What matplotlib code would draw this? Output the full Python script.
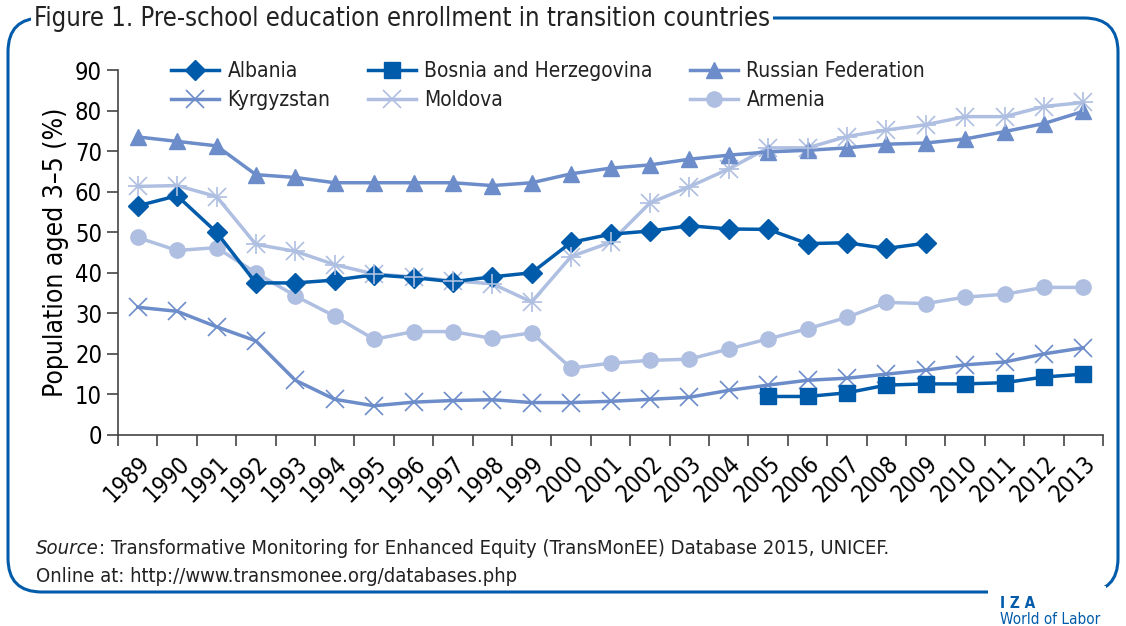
import numpy as np
import matplotlib.pyplot as plt
from matplotlib.patches import FancyBboxPatch, Rectangle

years = [str(y) for y in range(1989, 2014)]

albania = [56.5, 59.0, 50.0, 37.5, 37.5, 38.2, 39.5, 38.8, 37.8, 39.0, 40.0,
           47.5, 49.5, 50.3, 51.6, 50.8, 50.7, 47.2, 47.4, 46.0, 47.3]
bosnia_years = years[16:]
bosnia = [9.5, 9.5, 10.4, 12.3, 12.6, 12.6, 12.9, 14.3, 15.0]
russia = [73.5, 72.4, 71.3, 64.2, 63.5, 62.2, 62.2, 62.2, 62.2, 61.5, 62.2,
          64.4, 65.8, 66.6, 68.0, 69.0, 69.8, 70.2, 70.8, 71.7, 72.0, 73.0,
          74.8, 76.8, 79.8]
kyrgyzstan = [31.5, 30.5, 26.7, 23.2, 13.5, 8.8, 7.2, 8.1, 8.5, 8.7, 8.0,
              8.0, 8.3, 8.8, 9.3, 11.0, 12.3, 13.5, 14.0, 15.0, 16.0, 17.3,
              18.0, 20.0, 21.5]
moldova = [61.3, 61.5, 58.8, 47.0, 45.3, 42.0, 39.7, 39.0, 38.0, 37.3, 32.8,
           44.0, 47.5, 57.2, 61.2, 65.6, 70.8, 70.8, 73.6, 75.2, 76.5, 78.5,
           78.5, 81.0, 82.0]
armenia = [48.7, 45.5, 46.2, 40.0, 34.3, 29.3, 23.6, 25.5, 25.5, 23.8, 25.2,
           16.5, 17.7, 18.4, 18.7, 21.2, 23.7, 26.2, 29.0, 32.7, 32.4, 34.0,
           34.7, 36.4, 36.4]

dark = "#005BAA"
mid = "#6C8DC9"
light = "#AFBFE1"
plt.rcParams['font.family'] = ["DejaVu Sans"]
plt.rcParams['font.stretch'] = "condensed"
plt.rcParams['text.color'] = "#222222"

fig = plt.figure(figsize=(11.26, 6.26), dpi=100)
ax = fig.add_axes([118/1126, 1 - 435/626, 985/1126, 365/626])

pos = {y: i for i, y in enumerate(years)}
x = np.arange(len(years))

ax.plot(x, armenia, color=light, lw=2.5, marker="o", ms=11, label="Armenia")
ax.plot(x, moldova, color=light, lw=2.5, marker="x", ms=13, mew=1.2, label="Moldova")
ax.plot(x, kyrgyzstan, color=mid, lw=2.5, marker="x", ms=13, mew=1.2, label="Kyrgyzstan")
ax.plot(x, russia, color=mid, lw=2.5, marker="^", ms=11, label="Russian Federation")
ax.plot([pos[y] for y in bosnia_years], bosnia, color=dark, lw=2.5, marker="s",
        ms=11, label="Bosnia and Herzegovina")
ax.plot(x[:len(albania)], albania, color=dark, lw=2.5, marker="D", ms=10, label="Albania")
# moldova asterisk look: add plus on top
ax.plot(x, moldova, color=light, lw=0, marker="+", ms=15, mew=1.2)

ax.set_xlim(-0.5, len(years) - 0.5)
ax.set_ylim(0, 90)
ax.set_yticks(range(0, 91, 10))
ax.set_xticks(x)
ax.set_xticklabels(years, rotation=45, ha="right", va="top", rotation_mode="anchor")
ax.set_xticks(np.arange(-0.5, len(years), 1), minor=True)
ax.tick_params(axis="x", which="major", length=0, labelsize=17, pad=12)
ax.tick_params(axis="x", which="minor", length=8, width=1.2, color="#444444")
ax.tick_params(axis="y", length=8, width=1.2, color="#444444", labelsize=17)
for s in ["top", "right"]:
    ax.spines[s].set_visible(False)
for s in ["left", "bottom"]:
    ax.spines[s].set_color("#444444")
    ax.spines[s].set_linewidth(1.2)
ax.set_ylabel("Population aged 3–5 (%)", fontsize=19, labelpad=4)

h, l = ax.get_legend_handles_labels()
order = ["Albania", "Kyrgyzstan", "Bosnia and Herzegovina", "Moldova",
         "Russian Federation", "Armenia"]
hd = dict(zip(l, h))
ax.legend([hd[k] for k in order], order, ncol=3, frameon=False, fontsize=15,
          loc="upper left", bbox_to_anchor=(0.035, 1.075), handlelength=2.3,
          columnspacing=1.8, labelspacing=0.42, handletextpad=0.4)

# frame
frame = FancyBboxPatch((8/1126, 34/626), 1110/1126, 574/626,
                       boxstyle="round,pad=0,rounding_size=0.03",
                       transform=fig.transFigure, fill=False, ec=dark, lw=2.2,
                       mutation_aspect=1126/626)
fig.add_artist(frame)
fig.add_artist(Rectangle((988/1126, 20/626), 118/1126, 20/626, transform=fig.transFigure,
                         fc="white", ec="none"))
fig.text(34/1126, 1 - 19/626, "Figure 1. Pre-school education enrollment in transition countries",
         fontsize=18.4, va="center", ha="left",
         bbox=dict(fc="white", ec="none", pad=2))

src = fig.text(36/1126, 1 - 549/626, "Source", fontsize=14.5, style="italic", va="center")
r = fig.canvas.get_renderer()
ext = src.get_window_extent(r)
fig.text(ext.x1 / fig.bbox.width, 1 - 549/626,
         ": Transformative Monitoring for Enhanced Equity (TransMonEE) Database 2015, UNICEF.",
         fontsize=14.5, va="center")
fig.text(36/1126, 1 - 577/626, "Online at: http://www.transmonee.org/databases.php",
         fontsize=14.5, va="center")
fig.text(1000/1126, 1 - 604/626, "I Z A", fontsize=11, color=dark, va="center",
         fontweight="bold")
fig.text(1000/1126, 1 - 619/626, "World of Labor", fontsize=11, color=dark, va="center")

fig.savefig("out.png", dpi=100)
